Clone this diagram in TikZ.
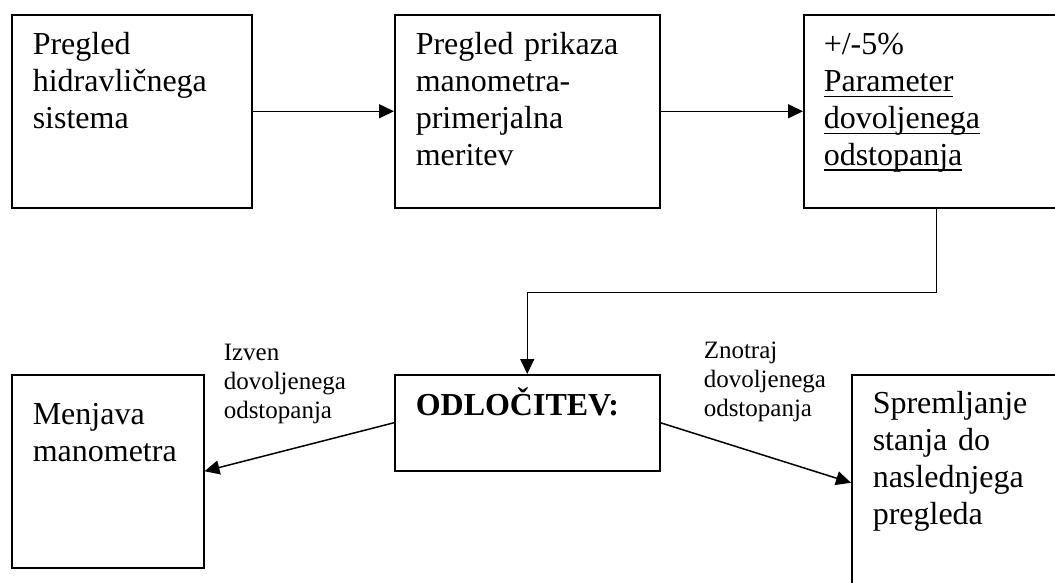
\documentclass[tikz,border=0pt]{standalone}
\usepackage{fontspec}
\setmainfont{Liberation Serif}
\usetikzlibrary{arrows.meta, positioning}
\newcommand{\boxfont}{\fontsize{32}{36.8}\selectfont}
\newcommand{\notefont}{\fontsize{25}{28.75}\selectfont}
\newsavebox{\wordbox}
\newcommand{\uword}[1]{\leavevmode\sbox{\wordbox}{#1}\rlap{\rule[-5.6pt]{\wd\wordbox}{1.3pt}}\usebox{\wordbox}}

\begin{document}
\begin{tikzpicture}[x=1pt, y=-1pt, >={Triangle[length=15pt, width=14pt]}, line width=1.5pt,
  stage/.style={draw, anchor=north west, align=left, inner ysep=0pt, inner xsep=21pt, font=\boxfont},
  note/.style={anchor=base west, align=left, inner sep=0pt, font=\notefont}]
  \path[use as bounding box, clip] (0,0) rectangle (1055,582);
  % Top row
  \node (check) [stage, text width=198pt, text height=40pt, text depth=153pt] at (11,14)
    {Pregled\\hidravličnega\\sistema};
  \node (gauge) [stage, text width=223pt, text height=40pt, text depth=153pt] at (394,14)
    {Pregled prikaza\\manometra-\\primerjalna\\meritev};
  \node (limit) [stage, inner xsep=20pt, text width=225pt, text height=40pt, text depth=153pt] at (803,14)
    {+/-5\%\\\uword{Parameter}\\\uword{dovoljenega}\\\uword{odstopanja}};
  % Bottom row
  \node (decide) [stage, text width=223pt, text height=41pt, text depth=55pt] at (394,374)
    {\textbf{ODLOČITEV:}};
  \node (swap) [stage, text width=150pt, text height=50pt, text depth=143pt] at (11,374)
    {Menjava\\manometra};
  \node (keep) [stage, text width=223pt, text height=39pt, text depth=177pt] at (851,374)
    {Spremljanje\\stanja do\\naslednjega\\pregleda};
  % Labels (base = last line)
  \node (outside) [note] at (223,418) {Izven\\dovoljenega\\odstopanja};
  \node (inside) [note] at (703,416) {Znotraj\\dovoljenega\\odstopanja};
  % Arrows
  \draw[->] (check.east) -- (gauge.west);
  \draw[->] (gauge.east) -- (limit.west);
  \draw[->] (limit.south) -- ++(0,84) -| (decide.north);
  \draw[->] (decide.west) -- (swap.east);
  \draw[->] (decide.east) -- (keep.west);
\end{tikzpicture}
\end{document}
